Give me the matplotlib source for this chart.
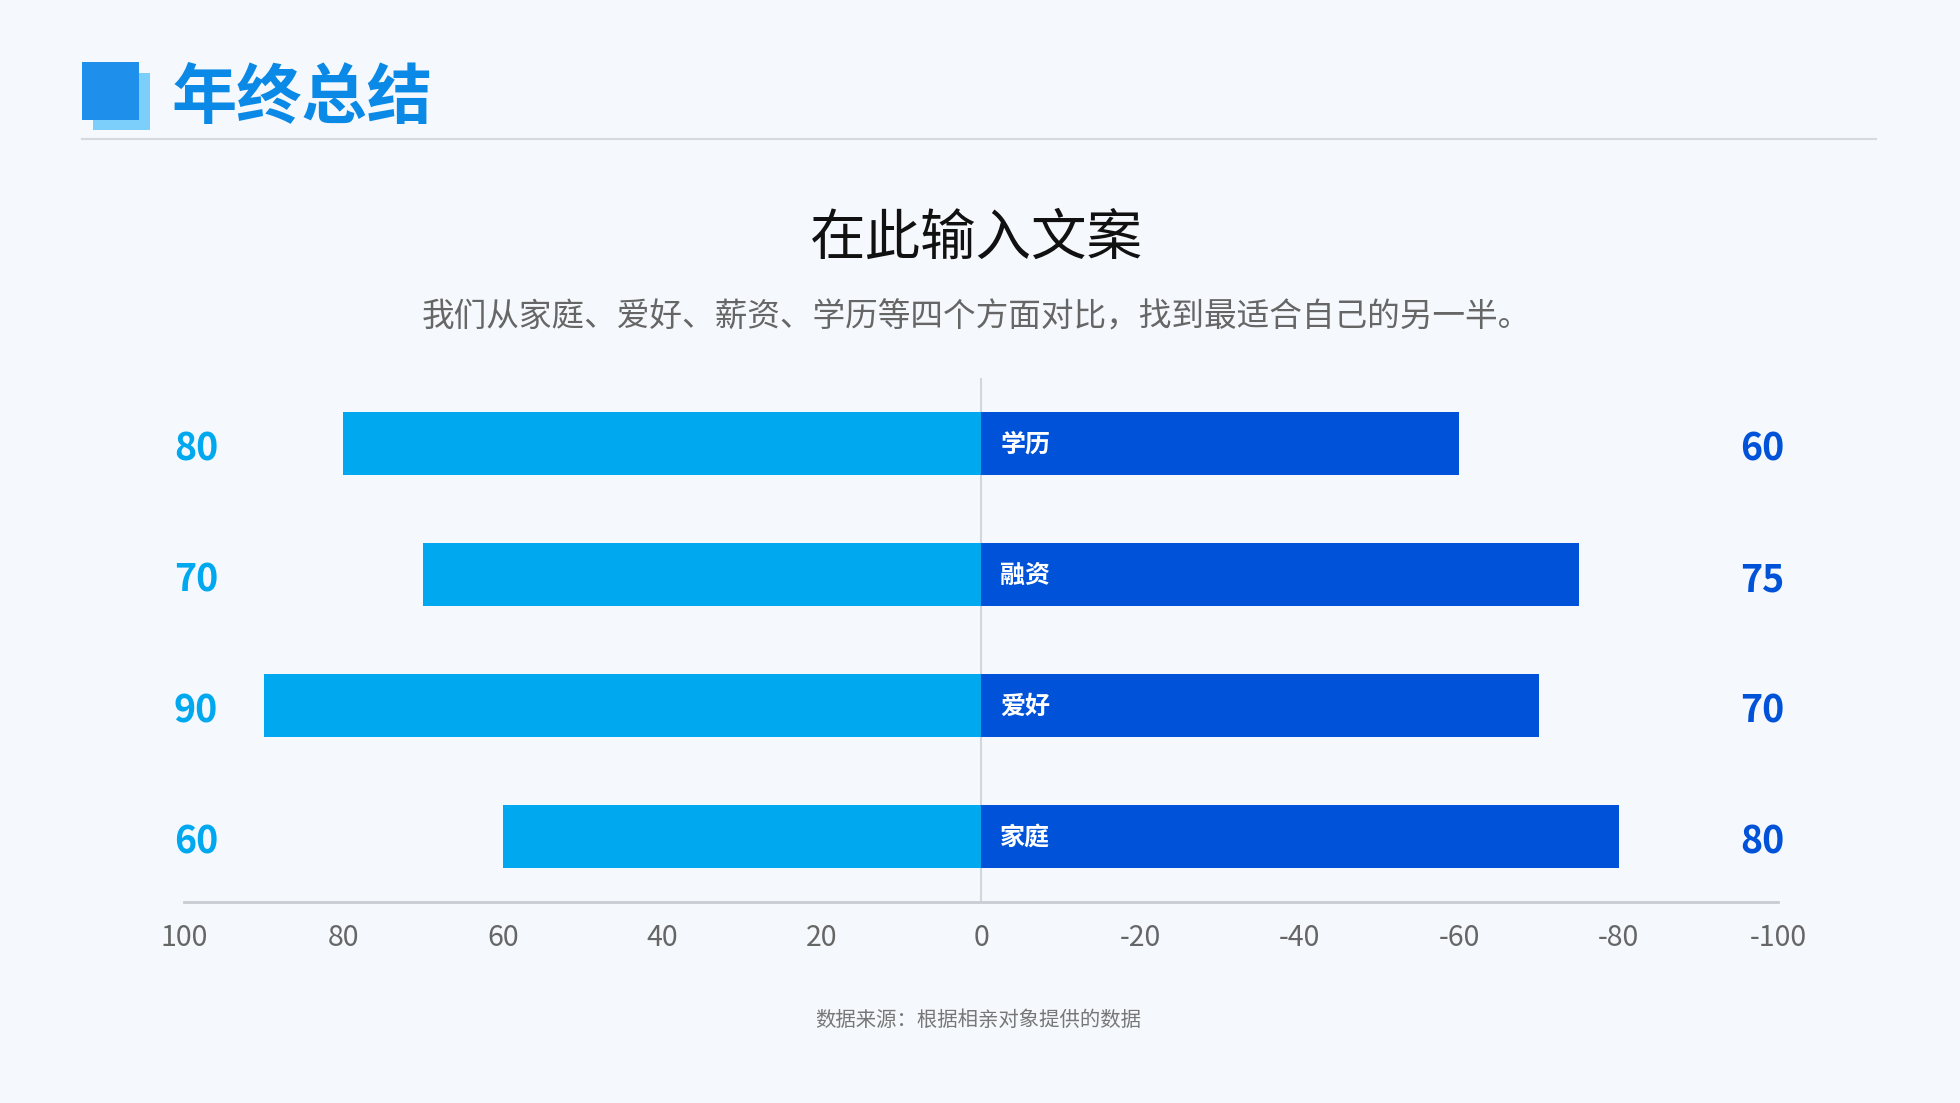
import matplotlib
matplotlib.use("Agg")
import matplotlib.pyplot as plt
from matplotlib.patches import Rectangle
from matplotlib.lines import Line2D

plt.rcParams['font.family'] = ['Noto Sans CJK SC', 'DejaVu Sans']
plt.rcParams['axes.unicode_minus'] = False

# data
categories = ["学历", "融资", "爱好", "家庭"]
left_values = [80, 70, 90, 60]
right_values = [60, 75, 70, 80]
ticks = [100, 80, 60, 40, 20, 0, -20, -40, -60, -80, -100]

header = "年终总结"
title = "在此输入文案"
subtitle = "我们从家庭、爱好、薪资、学历等四个方面对比，找到最适合自己的另一半。"
source = "数据来源：根据相亲对象提供的数据"

bg = "#F5F8FC"
c_left = "#00A8EF"
c_right = "#0052D9"

W, H = 1960, 1103
fig = plt.figure(figsize=(W / 100, H / 100), dpi=100, facecolor=bg)


def fx(px):
    return px / W


def fy(py):
    return 1 - py / H


# header block
fig.add_artist(Rectangle((fx(93), fy(130)), fx(57), 57 / H, transform=fig.transFigure,
                         facecolor="#7CCFFA", edgecolor="none"))
fig.add_artist(Rectangle((fx(82), fy(120)), fx(57), 58 / H, transform=fig.transFigure,
                         facecolor="#1E90EC", edgecolor="none"))
fig.text(fx(172), fy(99), header, fontsize=47, fontweight="bold", color="#0A8AE6",
         ha="left", va="center")
fig.add_artist(Line2D([fx(82), fx(1876)], [fy(139), fy(139)], transform=fig.transFigure,
                      color="#D6D9DE", lw=1.5))

fig.text(0.498, fy(239), title, fontsize=40, color="#111111", ha="center", va="center",
         fontweight="medium")
fig.text(0.498, fy(318), subtitle, fontsize=23.5, color="#666666", ha="center", va="center")
fig.text(0.499, fy(1020), source, fontsize=14.7, color="#777777", ha="center", va="center")

# chart
ax = fig.add_axes([fx(184), 1 - 902 / H, 1594 / W, 524 / H])
ax.set_facecolor(bg)
y = list(range(len(categories)))
ax.barh(y, left_values, height=0.485, color=c_left, zorder=2)
ax.barh(y, [-v for v in right_values], height=0.485, color=c_right, zorder=2)
ax.axvline(0, color="#D3D6DB", lw=1.5, zorder=1)

ax.set_xlim(100, -100)
ax.set_ylim(len(categories) - 0.5, -0.5)
ax.set_xticks(ticks)
ax.set_xticklabels([str(t) for t in ticks], fontsize=20.5, color="#666666")
ax.tick_params(axis="x", length=0, pad=15)
ax.set_yticks([])
for s in ["top", "left", "right"]:
    ax.spines[s].set_visible(False)
ax.spines["bottom"].set_color("#C9CCD2")
ax.spines["bottom"].set_linewidth(2)

for i, cat in enumerate(categories):
    ax.text(98.5, i + 0.04, str(left_values[i]), color=c_left, fontsize=27, fontweight="bold",
            ha="center", va="center", clip_on=False)
    ax.text(-98, i + 0.04, str(right_values[i]), color=c_right, fontsize=27, fontweight="bold",
            ha="center", va="center", clip_on=False)
    ax.text(-2.4, i + 0.01, cat, color="white", fontsize=18, fontweight="bold",
            ha="left", va="center", zorder=3)

fig.savefig("out.png", dpi=100, facecolor=bg)
